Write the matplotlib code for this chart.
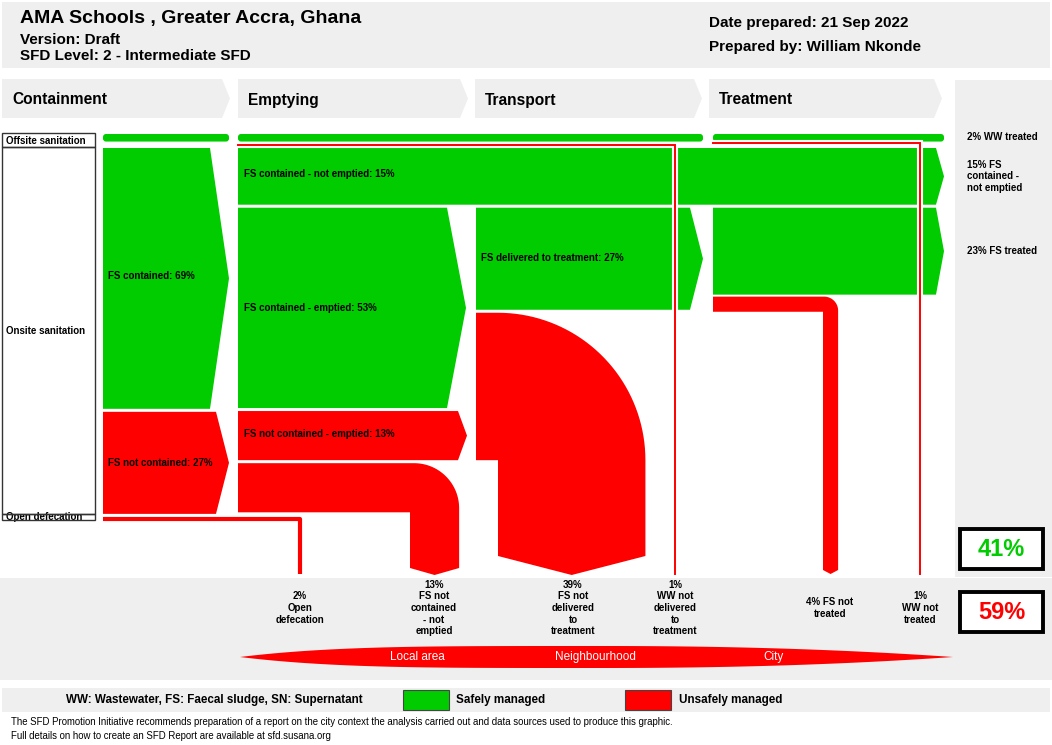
import numpy as np
import matplotlib.pyplot as plt
from matplotlib.patches import Polygon, Rectangle, FancyBboxPatch
import matplotlib.patheffects as pe

plt.rcParams['font.family'] = ['Liberation Sans', 'DejaVu Sans']

GREEN = '#00cc00'
RED = '#ff0000'
GREY = '#efefef'

# ---- chart data (% of population) ----
title = 'AMA Schools , Greater Accra, Ghana'
version = 'Version: Draft'
level = 'SFD Level: 2 - Intermediate SFD'
date_prepared = 'Date prepared: 21 Sep 2022'
prepared_by = 'Prepared by: William Nkonde'

stages = ['Containment', 'Emptying', 'Transport', 'Treatment']
sources = ['Offsite sanitation', 'Onsite sanitation', 'Open defecation']

offsite, contained, not_contained, open_def = 2, 69, 27, 2
not_emptied, emptied, nc_emptied, nc_not_emptied = 15, 53, 13, 13
delivered, not_delivered = 27, 39
fs_treated, fs_not_treated = 23, 4
ww_treated, ww_not_delivered, ww_not_treated = 2, 1, 1
safe_total, unsafe_total = 41, 59

zones = ['Local area', 'Neighbourhood', 'City']

# ---- layout ----
K = 3.78     # px per percent
GAP = 3
Y_OFF = 134
Y_ON = 148
LBL = 7.0


def chevron(ax, x0, x1, y0, y1, depth, color, z=2):
    pts = [(x0, y0), (x1 - depth, y0), (x1, (y0 + y1) / 2), (x1 - depth, y1), (x0, y1)]
    ax.add_patch(Polygon(pts, closed=True, fc=color, ec='none', zorder=z))


def bend(ax, x_left, y_top, h, x_v, w, y_end, tip, r, color):
    # horizontal band turning down with a rounded outer corner and a pointed end
    a = np.linspace(np.pi / 2, 0, 40)
    cx, cy = x_v + w - r, y_top + r
    arc = [(cx + r * np.cos(t), cy - r * np.sin(t)) for t in a]
    pts = [(x_left, y_top)] + arc + [(x_v + w, y_end), (x_v + w / 2, y_end + tip),
                                     (x_v, y_end), (x_v, y_top + h), (x_left, y_top + h)]
    ax.add_patch(Polygon(pts, closed=True, fc=color, ec='none', zorder=2))


def main():
    fig = plt.figure(figsize=(10.52, 7.45), dpi=100)
    ax = fig.add_axes([0, 0, 1, 1])
    ax.set_xlim(0, 1052)
    ax.set_ylim(745, 0)
    ax.axis('off')

    # grey panels
    ax.add_patch(Rectangle((2, 2), 1048, 66, fc=GREY, ec='none', zorder=0))
    ax.add_patch(Rectangle((955, 80), 97, 497, fc=GREY, ec='none', zorder=0))
    ax.add_patch(Rectangle((0, 578), 1052, 102, fc=GREY, ec='none', zorder=0))
    ax.add_patch(Rectangle((2, 688), 1048, 24, fc=GREY, ec='none', zorder=0))

    ax.text(20, 19, title, fontsize=14, fontweight='bold', va='center')
    ax.text(20, 39.5, version, fontsize=11, fontweight='bold', va='center')
    ax.text(20, 56, level, fontsize=11, fontweight='bold', va='center')
    ax.text(709, 23, date_prepared, fontsize=11, fontweight='bold', va='center')
    ax.text(709, 47, prepared_by, fontsize=11, fontweight='bold', va='center')

    # stage header arrows
    head_x = [(2, 230), (238, 468), (475, 702), (709, 942)]
    for (x0, x1), s in zip(head_x, stages):
        chevron(ax, x0, x1, 79, 118, 8, GREY, z=0)
        ax.text(x0 + 10, 100, s, fontsize=11.2, fontweight='bold', va='center')

    # source boxes
    on_end = Y_ON + K * (contained + not_contained) + GAP
    boxes = [(133, 147), (147, on_end), (on_end, on_end + 6)]
    for (y0, y1), s in zip(boxes, sources):
        ax.text(6, (y0 + y1) / 2 + 0.5, s, fontsize=LBL, fontweight='bold', va='center', zorder=1)
        ax.add_patch(Rectangle((2, y0), 93, y1 - y0, fc='none', ec='#333333', lw=1.0, zorder=3))

    # ---- containment ----
    ax.add_patch(FancyBboxPatch((103, Y_OFF), 126, K * offsite, boxstyle='round,pad=0,rounding_size=3',
                                fc=GREEN, ec='none', zorder=2))
    c0, c1 = Y_ON, Y_ON + K * contained
    chevron(ax, 103, 229, c0, c1, 19, GREEN)
    ax.text(108, (c0 + c1) / 2 - 2, 'FS contained: %d%%' % contained, fontsize=LBL, fontweight='bold', va='center', zorder=5)
    n0, n1 = c1 + GAP, c1 + GAP + K * not_contained
    chevron(ax, 103, 229, n0, n1, 13, RED)
    ax.text(108, (n0 + n1) / 2, 'FS not contained: %d%%' % not_contained, fontsize=LBL, fontweight='bold', va='center', zorder=5)
    y_od = n1 + 5
    ax.plot([103, 300, 300], [y_od, y_od, 574], color=RED, lw=open_def * K * 0.55 * 0.72,
            solid_joinstyle='round', solid_capstyle='butt', zorder=2)

    # ---- emptying ----
    ax.add_patch(FancyBboxPatch((238, Y_OFF), 465, K * offsite, boxstyle='round,pad=0,rounding_size=3',
                                fc=GREEN, ec='none', zorder=2))
    e0, e1 = Y_ON, Y_ON + K * not_emptied
    chevron(ax, 238, 944, e0, e1, 8, GREEN)
    ax.text(244, (e0 + e1) / 2 - 2, 'FS contained - not emptied: %d%%' % not_emptied, fontsize=LBL, fontweight='bold', va='center', zorder=5)
    m0, m1 = e1 + GAP, e1 + GAP + K * emptied
    chevron(ax, 238, 466, m0, m1, 19, GREEN)
    ax.text(244, (m0 + m1) / 2, 'FS contained - emptied: %d%%' % emptied, fontsize=LBL, fontweight='bold', va='center', zorder=5)
    q0, q1 = m1 + GAP, m1 + GAP + K * nc_emptied
    chevron(ax, 238, 467, q0, q1, 9, RED)
    ax.text(244, (q0 + q1) / 2 - 2, 'FS not contained - emptied: %d%%' % nc_emptied, fontsize=LBL, fontweight='bold', va='center', zorder=5)
    r0 = q1 + GAP
    w13 = K * nc_not_emptied
    bend(ax, 238, r0, w13, 410, w13, 568, 7, 45, RED)

    # ---- transport ----
    d0, d1 = m0, m0 + K * delivered
    chevron(ax, 476, 703, d0, d1, 13, GREEN)
    ax.text(481, (d0 + d1) / 2 - 1, 'FS delivered to treatment: %d%%' % delivered, fontsize=LBL, fontweight='bold', va='center', zorder=5)
    w39 = K * not_delivered
    bend(ax, 476, d1 + GAP, w39, 498, w39, 556, 19, w39, RED)

    # ---- treatment ----
    ax.add_patch(FancyBboxPatch((713, Y_OFF), 231, K * offsite, boxstyle='round,pad=0,rounding_size=3',
                                fc=GREEN, ec='none', zorder=2))
    t0, t1 = m0, m0 + K * fs_treated
    chevron(ax, 713, 944, t0, t1, 8, GREEN)
    w4 = K * fs_not_treated
    bend(ax, 713, t1 + 2, w4, 823, w4, 570, 4, 14, RED)

    # wastewater lines
    halo = [pe.Stroke(linewidth=4.4, foreground='white'), pe.Normal()]
    ax.plot([238, 675, 675], [145, 145, 574], color=RED, lw=ww_not_delivered * 1.4,
            solid_joinstyle='miter', path_effects=halo, zorder=4)
    ax.plot([713, 920, 920], [143, 143, 574], color=RED, lw=ww_not_treated * 1.4,
            solid_joinstyle='miter', path_effects=halo, zorder=4)

    # right column labels
    ax.text(967, Y_OFF + 3, '%d%% WW treated' % ww_treated, fontsize=LBL, fontweight='bold', va='center')
    ax.text(967, (e0 + e1) / 2, '%d%% FS\ncontained -\nnot emptied' % not_emptied, fontsize=LBL,
            fontweight='bold', va='center', linespacing=1.2)
    ax.text(967, (t0 + t1) / 2, '%d%% FS treated' % fs_treated, fontsize=LBL, fontweight='bold', va='center')

    # bottom labels
    outcomes = [(300, '%d%%\nOpen\ndefecation' % open_def),
                (434, '%d%%\nFS not\ncontained\n- not\nemptied' % nc_not_emptied),
                (573, '%d%%\nFS not\ndelivered\nto\ntreatment' % not_delivered),
                (675, '%d%%\nWW not\ndelivered\nto\ntreatment' % ww_not_delivered),
                (830, '%d%% FS not\ntreated' % fs_not_treated),
                (920, '%d%%\nWW not\ntreated' % ww_not_treated)]
    for x, s in outcomes:
        ax.text(x, 608, s, fontsize=LBL, fontweight='bold', ha='center', va='center',
                multialignment='center', linespacing=1.2)

    # totals
    for y, v, col in [(529, safe_total, GREEN), (592, unsafe_total, RED)]:
        ax.add_patch(Rectangle((960, y), 83, 40, fc='white', ec='black', lw=2.8, zorder=3))
        ax.text(1001.5, y + 20.5, '%d%%' % v, fontsize=17, fontweight='bold', color=col,
                ha='center', va='center', zorder=4)

    # local area / neighbourhood / city lens
    xl, xm, xr = 240, 600, 953
    xs = np.linspace(xl, xr, 400)
    u = np.where(xs < xm, (xm - xs) / (xm - xl), (xs - xm) / (xr - xm))
    half = np.where(xs < xm, 11 * (1 - u ** 4), 11 * (1 - u ** 2.2))
    pts = list(zip(xs, 657 - half)) + list(zip(xs[::-1], (657 + half)[::-1]))
    ax.add_patch(Polygon(pts, closed=True, fc=RED, ec='none', zorder=2))
    for x, z in zip([417, 595, 773], zones):
        ax.text(x, 657, z, fontsize=8.5, color='white', ha='center', va='center', zorder=3)

    # legend bar
    ax.text(66, 700, 'WW: Wastewater, FS: Faecal sludge, SN: Supernatant', fontsize=8.4,
            fontweight='bold', va='center')
    ax.add_patch(Rectangle((403, 690), 46, 20, fc=GREEN, ec='#444444', lw=0.8))
    ax.text(456, 700, 'Safely managed', fontsize=8.4, fontweight='bold', va='center')
    ax.add_patch(Rectangle((625, 690), 46, 20, fc=RED, ec='#444444', lw=0.8))
    ax.text(679, 700, 'Unsafely managed', fontsize=8.4, fontweight='bold', va='center')

    ax.text(11, 722, 'The SFD Promotion Initiative recommends preparation of a report on the city context the '
            'analysis carried out and data sources used to produce this graphic.', fontsize=6.9,
            va='center')
    ax.text(11, 736, 'Full details on how to create an SFD Report are available at sfd.susana.org',
            fontsize=6.9, va='center')

    fig.savefig('out.png', dpi=100)


if __name__ == '__main__':
    main()
